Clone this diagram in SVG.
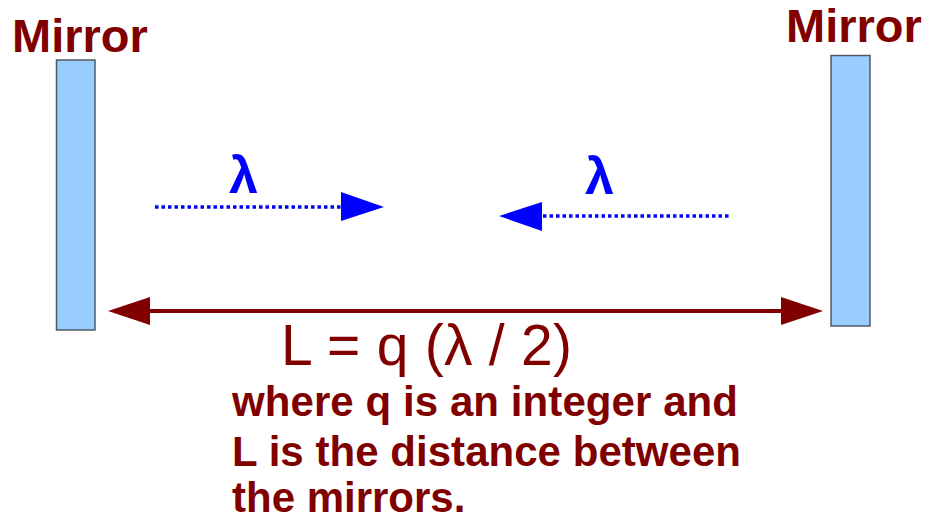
<svg xmlns="http://www.w3.org/2000/svg" width="927" height="520" viewBox="0 0 927 520">
<style>
.lbl{font-family:"Liberation Sans",Arial,sans-serif;font-weight:bold;fill:#800000}
.lam{font-family:"Liberation Sans",Arial,sans-serif;font-weight:bold;fill:#0000ff;font-size:52px}
.mirror{fill:#99ccff;stroke:#505a64;stroke-width:1.5}
.wave{stroke:#0000ff;stroke-width:3.5;stroke-dasharray:3.5 3;fill:none}
.dist{stroke:#800000;stroke-width:4;fill:none}
</style>
<rect width="927" height="520" fill="#ffffff"/>
<g id="mirror-left">
<rect class="mirror" x="56.5" y="60" width="38.5" height="270"/>
<text class="lbl" x="12" y="52" font-size="47">Mirror</text>
</g>
<g id="mirror-right">
<rect class="mirror" x="831" y="55.5" width="39" height="270.5"/>
<text class="lbl" x="786" y="42" font-size="47">Mirror</text>
</g>
<g id="connectors">
<line class="wave" x1="155" y1="207" x2="343" y2="207"/>
<polygon points="341,192 384,207 341,221" fill="#0000ff"/>
<line class="wave" x1="543" y1="216" x2="729" y2="216"/>
<polygon points="542,202 499,216 542,231" fill="#0000ff"/>
<line class="dist" x1="145" y1="311" x2="786" y2="311"/>
<polygon points="150,297 108,311 150,325" fill="#800000"/>
<polygon points="781,297 823,311 781,325" fill="#800000"/>
</g>
<g id="labels">
<text class="lam" x="229" y="193">λ</text>
<text class="lam" x="585" y="194">λ</text>
<text x="281" y="365" font-family="'Liberation Sans',Arial,sans-serif" font-size="57" fill="#800000" textLength="291" lengthAdjust="spacing">L = q (λ / 2)</text>
<text class="lbl" x="232" y="416" font-size="42" textLength="506" lengthAdjust="spacing">where q is an integer and</text>
<text class="lbl" x="232" y="466" font-size="42" textLength="509" lengthAdjust="spacing">L is the distance between</text>
<text class="lbl" x="232" y="512" font-size="42">the mirrors.</text>
</g>
</svg>
